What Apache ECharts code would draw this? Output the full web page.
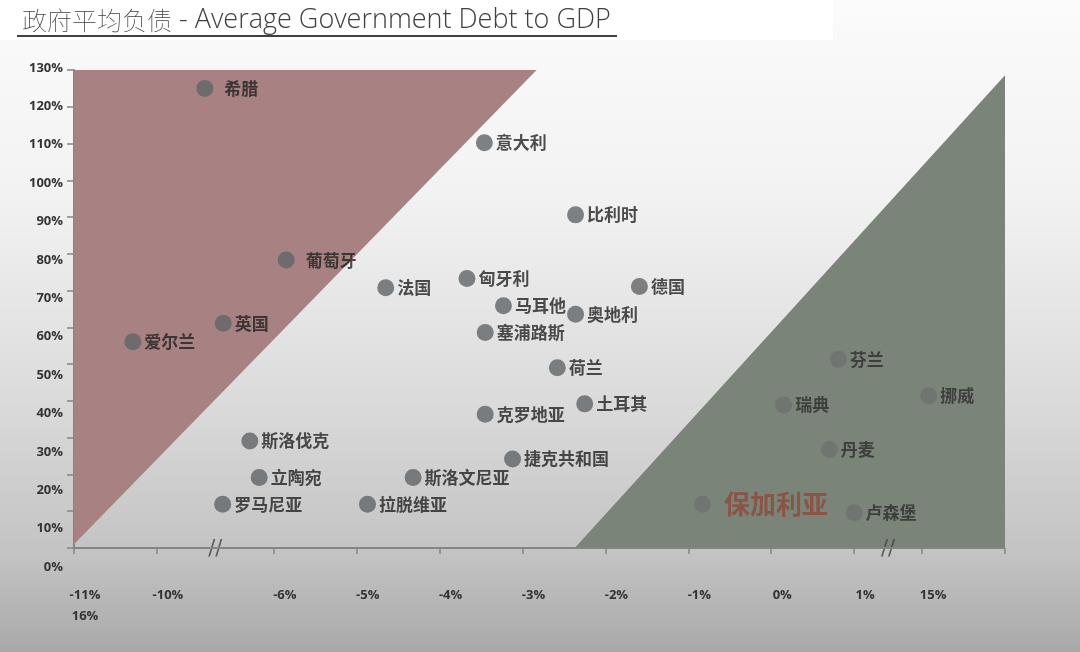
<!DOCTYPE html>
<html>
<head>
<meta charset="utf-8">
<script src="https://cdn.jsdelivr.net/npm/echarts@6/dist/echarts.min.js"></script>
<style>
html,body{margin:0;padding:0;background:#fff;}
#main{width:1080px;height:652px;}
</style>
</head>
<body>
<div id="main"></div>
<script>
// ---- data ----
const countries = ['希腊','意大利','比利时','葡萄牙','法国','匈牙利','马耳他','奥地利','英国','爱尔兰','塞浦路斯','德国','荷兰','克罗地亚','土耳其','斯洛伐克','捷克共和国','立陶宛','斯洛文尼亚','罗马尼亚','拉脱维亚','芬兰','瑞典','挪威','丹麦','保加利亚','卢森堡'];
const deficitPct = [-8.36,-3.46,-2.36,-5.85,-4.65,-3.67,-3.23,-2.36,-7.73,-10.29,-3.45,-1.59,-2.58,-3.45,-2.25,-6.82,-3.12,-6.50,-4.32,-7.75,-4.87,0.81,0.15,15.08,0.70,-0.83,1.0];
const debtPct = [125.0,110.2,90.6,78.3,70.8,73.3,65.9,63.6,61.1,56.1,58.6,71.1,49.0,36.4,39.2,29.1,24.2,19.2,19.2,11.9,11.9,51.3,38.9,41.4,26.8,11.9,9.6];
const surplusGroup = ['芬兰','瑞典','挪威','丹麦','保加利亚','卢森堡'];
const highlighted = '保加利亚';
const xBreaks = [[-10,-6],[1,15]];
const xRange = [-11,16];
const yRange = [0,130];
const redZone = [[-11,130],[-2.83,130],[-11,1]];
const greenZone = [[-2.37,0],[16,0],[16,128.6]];
const titleCn = '政府平均负债';
const titleEn = ' - Average Government Debt to GDP';

// ---- build ----
const chart = echarts.init(document.getElementById('main'), null, {renderer:'canvas'});

function pointData(inGroup){
  const out = [];
  countries.forEach((n,i)=>{
    if ((surplusGroup.indexOf(n) >= 0) !== inGroup) return;
    const d = {name:n, value:[deficitPct[i], debtPct[i]]};
    if (n === '希腊' || n === '葡萄牙') d.label = {distance: 11};
    if (n === highlighted) d.label = {distance: 13, fontSize: 26, color: '#8e4a3a', fontWeight: 'bold'};
    out.push(d);
  });
  return out;
}

function zoneSeries(name, pts, color){
  return {
    name: name, type:'custom', xAxisIndex:0, yAxisIndex:0, z:1, silent:true,
    data:[0],
    renderItem: function(params, api){
      return {type:'polygon', shape:{points: pts.map(p=>api.coord(p))}, style:{fill:color}};
    }
  };
}

const labelFont = {fontFamily:'Noto Sans CJK SC', fontSize:17, fontWeight:'bold'};
const axisGrey = '#858585';

const option = {
  backgroundColor: {type:'linear', x:0, y:0, x2:0, y2:1, colorStops:[
    {offset:0, color:'#fbfbfb'},{offset:0.3, color:'#f2f2f2'},{offset:0.6, color:'#dcdcdc'},{offset:0.85, color:'#c3c3c3'},{offset:1, color:'#a9a9a9'}]},
  animation:false,
  title:{text:'{cn|' + titleCn + '}{en|' + titleEn + '}', left:17, top:2,
    textStyle:{color:'#404040', rich:{
      cn:{fontFamily:'Noto Sans CJK SC', fontWeight:'lighter', fontSize:25, color:'#404040'},
      en:{fontFamily:'Open Sans', fontWeight:'lighter', fontSize:27, color:'#404040'}}}},
  graphic:[
    {type:'rect', z:-1, shape:{x:0,y:0,width:833,height:40}, style:{fill:'#ffffff'}},
    {type:'line', shape:{x1:17,y1:36,x2:617,y2:36}, style:{stroke:'#404040', lineWidth:2}}
  ],
  grid:[
    {left:74, right:75, top:70, bottom:104},
    {left:74, right:75, top:68, bottom:85}
  ],
  xAxis:[
    {type:'value', gridIndex:0, min:xRange[0], max:xRange[1], interval:1,
     breaks: xBreaks.map(b=>({start:b[0], end:b[1], gap: b[0] < 0 ? 1.41 : 0.82})),
     breakArea:{show:false},
     axisLine:{show:false},
     axisTick:{show:true, length:6, lineStyle:{color:axisGrey, width:1.5}},
     splitLine:{show:false},
     axisLabel:{show:true, margin:37, color:'#333', fontFamily:'Open Sans', fontSize:13, fontWeight:'bold', padding:[0,0,0,22], lineHeight:21,
       formatter:function(v){ if (v === xRange[0]) return v + '%\n' + xRange[1] + '%'; if (v === xRange[1]) return ''; return v + '%'; }}
    },
    {type:'value', gridIndex:1, show:false, min:0, max:1}
  ],
  yAxis:[
    {type:'value', gridIndex:0, min:yRange[0], max:yRange[1], interval:10,
     axisLine:{show:true, onZero:false, lineStyle:{color:axisGrey, width:2}},
     axisTick:{show:true, length:7, lineStyle:{color:axisGrey, width:1.5}},
     axisLabel:{show:false}, splitLine:{show:false}},
    {type:'value', gridIndex:1, min:yRange[0], max:yRange[1], interval:10,
     axisLine:{show:false}, axisTick:{show:false}, splitLine:{show:false},
     axisLabel:{show:true, margin:11, color:'#333', fontFamily:'Open Sans', fontSize:13, fontWeight:'bold', formatter:'{value}%'}}
  ],
  series:[
    zoneSeries('redZone', redZone, '#a88282'),
    zoneSeries('greenZone', greenZone, '#7b8479'),
    {name:'main', type:'scatter', xAxisIndex:0, yAxisIndex:0, z:3, symbol:'circle', symbolSize:17,
     itemStyle:{color:'#5f6468'},
     label:Object.assign({show:true, position:'right', distance:3, color:'#222', formatter:'{b}'}, labelFont),
     data: pointData(false)},
    {name:'surplus', type:'scatter', xAxisIndex:0, yAxisIndex:0, z:3, symbol:'circle', symbolSize:17,
     itemStyle:{color:'#6e7270'},
     label:Object.assign({show:true, position:'right', distance:3, color:'#2e2e2e', formatter:'{b}'}, labelFont),
     data: pointData(true)},
    {name:'axisDecor', type:'scatter', xAxisIndex:0, yAxisIndex:0, z:4, symbolSize:1, silent:true,
     itemStyle:{color:'rgba(0,0,0,0)'},
     label:{show:true, position:'inside', formatter:'//', color:'#444', fontSize:21, fontFamily:'DejaVu Sans', offset:[0,2]},
     markLine:{silent:true, symbol:'none', label:{show:false}, lineStyle:{color:axisGrey, width:2, type:'solid'},
       data:[{yAxis:yRange[0]}]},
     data: xBreaks.map(b=>[(b[0]+b[1])/2, yRange[0]])}
  ]
};
chart.setOption(option);
</script>
</body>
</html>
